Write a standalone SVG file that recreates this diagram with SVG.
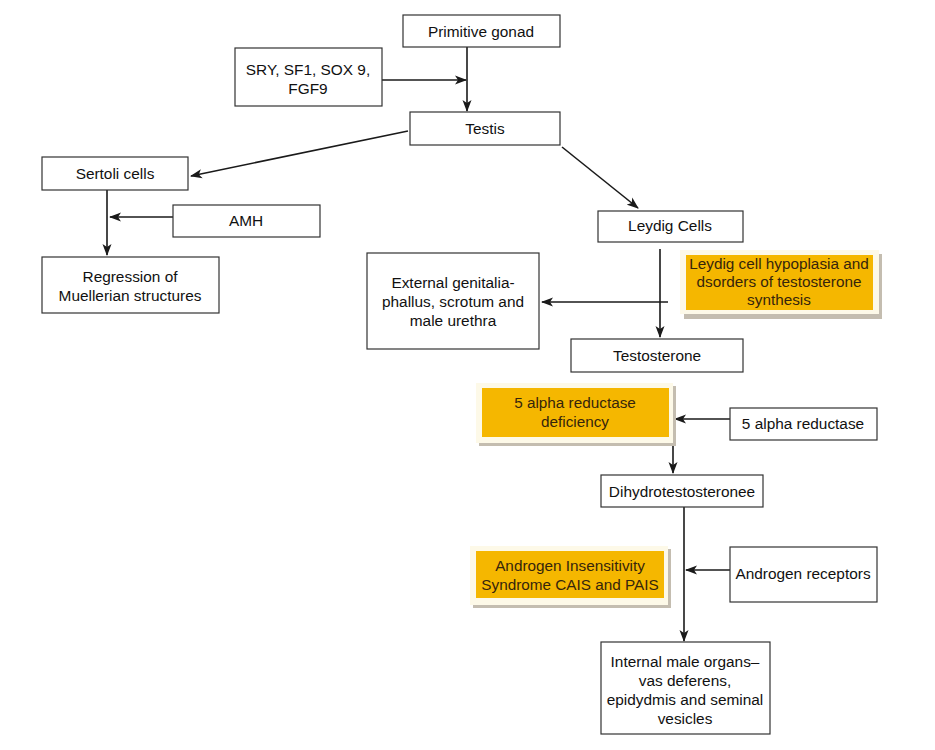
<svg xmlns="http://www.w3.org/2000/svg" width="935" height="750" viewBox="0 0 935 750">
<defs>
<marker id="ah" markerWidth="12" markerHeight="10" viewBox="0 0 12 10" refX="11" refY="5" orient="auto" markerUnits="userSpaceOnUse">
<path d="M0,0.5 L12,5 L0,9.5 L3,5 z" fill="#1a1a1a"/>
</marker>
</defs>
<style>
.box{fill:#fff;stroke:#333;stroke-width:1.2}
.t{font-family:"Liberation Sans",Arial,sans-serif;font-size:15.4px;fill:#111;text-anchor:middle}
.ot{font-family:"Liberation Sans",Arial,sans-serif;font-size:15.3px;fill:#35250c;text-anchor:middle}
.sh{fill:#c4bdb0}
.cr{fill:#fdf9e8}
.or{fill:#f5b700}
.c{stroke:#1a1a1a;stroke-width:1.6;fill:none}
.ca{stroke:#1a1a1a;stroke-width:1.6;fill:none;marker-end:url(#ah)}
</style>
<rect width="935" height="750" fill="#fff"/>
<g id="connectors">
<line class="ca" x1="467" y1="47" x2="467" y2="111"/>
<line class="ca" x1="382" y1="80" x2="466" y2="80"/>
<line class="ca" x1="408" y1="131" x2="191" y2="176"/>
<line class="ca" x1="562" y1="147" x2="638" y2="208"/>
<line class="ca" x1="107" y1="190" x2="107" y2="255"/>
<line class="ca" x1="173" y1="217" x2="110" y2="217"/>
<line class="ca" x1="660" y1="249" x2="660" y2="337"/>
<line class="ca" x1="668" y1="302" x2="542" y2="302"/>
<line class="ca" x1="730" y1="419" x2="675" y2="419"/>
<line class="ca" x1="673" y1="445" x2="673" y2="473"/>
<line class="ca" x1="684" y1="507" x2="684" y2="641"/>
<line class="ca" x1="730" y1="570" x2="686" y2="570"/>
</g>
<g id="primitive-gonad"><rect class="box" x="403" y="15" width="157" height="32"/><text class="t" x="481" y="37">Primitive gonad</text></g>
<g id="sry"><rect class="box" x="235" y="48" width="147" height="58"/><text class="t" x="308" y="75">SRY, SF1, SOX 9,</text><text class="t" x="308" y="94">FGF9</text></g>
<g id="testis"><rect class="box" x="410" y="112" width="150" height="33"/><text class="t" x="485" y="134">Testis</text></g>
<g id="sertoli"><rect class="box" x="42" y="157" width="146" height="33"/><text class="t" x="115" y="179">Sertoli cells</text></g>
<g id="amh"><rect class="box" x="173" y="205" width="147" height="32"/><text class="t" x="246" y="226">AMH</text></g>
<g id="regression"><rect class="box" x="42" y="257" width="177" height="56"/><text class="t" x="130" y="282">Regression of</text><text class="t" x="130" y="301">Muellerian structures</text></g>
<g id="leydig"><rect class="box" x="598" y="211" width="145" height="31"/><text class="t" x="670" y="231">Leydig Cells</text></g>
<g id="external"><rect class="box" x="367" y="253" width="172" height="96"/><text class="t" x="453" y="288">External genitalia-</text><text class="t" x="453" y="307">phallus, scrotum and</text><text class="t" x="453" y="326">male urethra</text></g>
<g id="testosterone"><rect class="box" x="571" y="339" width="172" height="33"/><text class="t" x="657" y="361">Testosterone</text></g>
<g id="leydig-hypoplasia"><rect class="sh" x="684" y="254" width="198" height="65"/><rect class="cr" x="680" y="250" width="199" height="64"/><rect class="or" x="686" y="255" width="187" height="55"/><text class="ot" x="779" y="269">Leydig cell hypoplasia and</text><text class="ot" x="779" y="287">dsorders of testosterone</text><text class="ot" x="779" y="305">synthesis</text></g>
<g id="five-alpha-deficiency"><rect class="sh" x="479" y="386" width="197" height="60"/><rect class="cr" x="476" y="383" width="197" height="60"/><rect class="or" x="482" y="388" width="187" height="49"/><text class="ot" x="575" y="408">5 alpha reductase</text><text class="ot" x="575" y="427">deficiency</text></g>
<g id="five-alpha-reductase"><rect class="box" x="730" y="408" width="147" height="32"/><text class="t" x="803" y="429">5 alpha reductase</text></g>
<g id="dht"><rect class="box" x="601" y="475" width="162" height="32"/><text class="t" x="682" y="497">Dihydrotestosteronee</text></g>
<g id="ais"><rect class="sh" x="473" y="549" width="198" height="59"/><rect class="cr" x="470" y="546" width="198" height="59"/><rect class="or" x="476" y="551" width="188" height="47"/><text class="ot" x="570" y="571">Androgen Insensitivity</text><text class="ot" x="570" y="590">Syndrome CAIS and PAIS</text></g>
<g id="androgen-receptors"><rect class="box" x="730" y="547" width="147" height="55"/><text class="t" x="803" y="579">Androgen receptors</text></g>
<g id="internal"><rect class="box" x="601" y="642" width="169" height="92"/><text class="t" x="685" y="667">Internal male organs–</text><text class="t" x="685" y="686">vas deferens,</text><text class="t" x="685" y="705">epidydmis and seminal</text><text class="t" x="685" y="724">vesicles</text></g>
</svg>
